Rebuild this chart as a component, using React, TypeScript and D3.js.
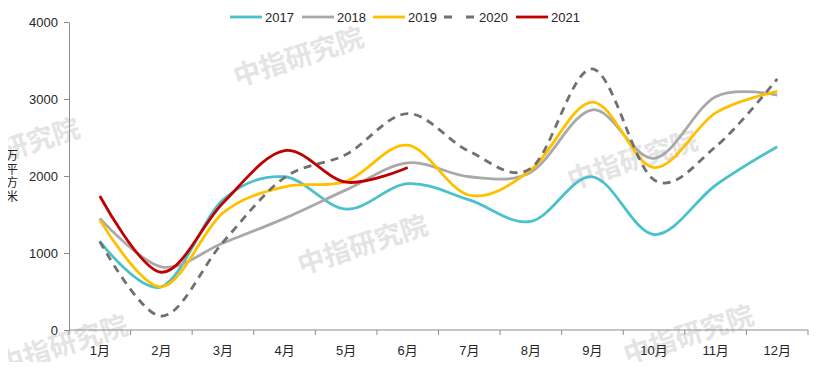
import { useEffect, useRef } from 'react';
import * as d3 from 'd3';

const months = ['1月', '2月', '3月', '4月', '5月', '6月', '7月', '8月', '9月', '10月', '11月', '12月'];
const yTicks = [0, 1000, 2000, 3000, 4000];

const s2017 = [1150, 560, 1690, 1990, 1570, 1900, 1690, 1410, 1990, 1240, 1880, 2380];
const s2018 = [1450, 820, 1130, 1450, 1820, 2170, 1990, 2050, 2860, 2230, 3030, 3050];
const s2019 = [1430, 560, 1520, 1860, 1930, 2400, 1750, 2080, 2960, 2110, 2820, 3100];
const s2020 = [1150, 180, 1140, 1980, 2280, 2810, 2320, 2100, 3390, 1950, 2380, 3260];
const s2021 = [1740, 750, 1650, 2330, 1920, 2110];

const seriesNames = ['2017', '2018', '2019', '2020', '2021'];
const seriesColors = ['#4BC1CA', '#A9A9A9', '#FFC000', '#707070', '#C00000'];
const seriesDash = [null, null, null, '8,6', null];

const watermarks = [
	[298, 55],
	[362, 243],
	[632, 158],
	[688, 333],
	[62, 343],
	[14, 146],
];

const W = 817;
const H = 370;

const App = () => {
	const ref = useRef<SVGSVGElement>(null);

	useEffect(() => {
		if (!ref.current) return;
		const svg = d3.select(ref.current);
		svg.selectAll('*').remove();

		const font = "'Liberation Sans', Arial, 'Noto Sans CJK SC', sans-serif";
		const left = 69;
		const right = 808;
		const top = 22;
		const bottom = 330;

		const x = d3.scaleBand<string>().domain(months).range([left, right]);
		const y = d3.scaleLinear().domain([0, 4000]).range([bottom, top]);

		// watermark
		const wm = svg.append('g');
		watermarks.forEach(([cx, cy]) => {
			wm.append('text')
				.attr('transform', `translate(${cx},${cy}) rotate(-18)`)
				.attr('text-anchor', 'middle')
				.attr('dominant-baseline', 'central')
				.style('font-family', "'Noto Sans CJK SC', sans-serif")
				.style('font-size', '27px')
				.style('font-weight', 'bold')
				.style('fill', '#e4e4e4')
				.text('中指研究院');
		});

		// y axis
		const yAxis = svg
			.append('g')
			.attr('transform', `translate(${left},0)`)
			.call(
				d3.axisLeft(y)
					.tickValues(yTicks)
					.tickFormat(d3.format('d'))
					.tickSize(5)
					.tickSizeOuter(0)
					.tickPadding(6)
			);
		yAxis.select('.domain').attr('stroke', '#8c8c8c');
		yAxis.selectAll('line').attr('stroke', '#8c8c8c');
		yAxis.selectAll('text')
			.style('font-family', font)
			.style('font-size', '13px')
			.style('fill', '#262626');

		// x axis
		const xAxis = svg.append('g').attr('transform', `translate(0,${bottom})`);
		xAxis.append('line')
			.attr('x1', left)
			.attr('x2', right)
			.attr('stroke', '#8c8c8c');
		const edges = months.map((m) => x(m)!).concat([right]);
		xAxis.selectAll('line.tick')
			.data(edges)
			.join('line')
			.attr('class', 'tick')
			.attr('x1', (d) => d)
			.attr('x2', (d) => d)
			.attr('y1', 0)
			.attr('y2', 5)
			.attr('stroke', '#8c8c8c');
		xAxis.selectAll('text')
			.data(months)
			.join('text')
			.attr('x', (d) => x(d)! + x.bandwidth() / 2)
			.attr('y', 25)
			.attr('text-anchor', 'middle')
			.style('font-family', font)
			.style('font-size', '13px')
			.style('fill', '#262626')
			.text((d) => d);

		// y label, one character per line
		const unit = ['万', '平', '方', '米'];
		svg.append('g')
			.selectAll('text')
			.data(unit)
			.join('text')
			.attr('x', 12)
			.attr('y', (_d, i) => 160 + i * 13.5)
			.attr('text-anchor', 'middle')
			.style('font-family', "'Noto Sans CJK SC', sans-serif")
			.style('font-size', '12px')
			.style('fill', '#262626')
			.text((d) => d);

		// lines
		const allSeries = [s2017, s2018, s2019, s2020, s2021];
		const line = d3
			.line<number>()
			.x((_d, i) => x(months[i])! + x.bandwidth() / 2)
			.y((d) => y(d))
			.curve(d3.curveCardinal.tension(0));

		allSeries.forEach((s, i) => {
			svg.append('path')
				.datum(s)
				.attr('d', line)
				.attr('fill', 'none')
				.attr('stroke', seriesColors[i])
				.attr('stroke-width', 2.8)
				.attr('stroke-dasharray', seriesDash[i])
				.attr('stroke-linecap', 'butt');
		});

		// legend
		const legendX = [230, 302, 373, 444, 516];
		const legend = svg.append('g');
		seriesNames.forEach((name, i) => {
			const lx = legendX[i];
			legend.append('line')
				.attr('x1', lx)
				.attr('x2', lx + 32)
				.attr('y1', 17)
				.attr('y2', 17)
				.attr('stroke', seriesColors[i])
				.attr('stroke-width', 2.8)
				.attr('stroke-dasharray', seriesDash[i] ? '8,14' : null);
			legend.append('text')
				.attr('x', lx + 35)
				.attr('y', 22)
				.style('font-family', font)
				.style('font-size', '13px')
				.style('fill', '#262626')
				.text(name);
		});
	}, []);

	return <svg ref={ref} width={W} height={H} style={{ display: 'block', margin: '-8px' }}></svg>;
};

export default App;
